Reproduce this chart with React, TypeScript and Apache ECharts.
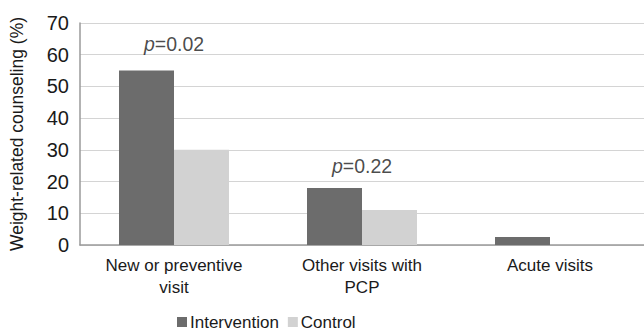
import React, { useEffect, useRef } from "react";
import * as echarts from "echarts";

const categories = ["New or preventive\nvisit", "Other visits with\nPCP", "Acute visits"];
const intervention = [55, 18, 2.5];
const control = [30, 11, 0];
const pLabels = ["0.02", "0.22", ""];
const pLabelY = [63.5, 25, null];
const yTicks = { min: 0, max: 70, interval: 10 };

const FONT = "Liberation Sans, Arial, sans-serif";

export default function App() {
  const ref = useRef<HTMLDivElement>(null);
  useEffect(() => {
    if (!ref.current) return;
    const chart = echarts.init(ref.current, null, { renderer: "svg" });
    chart.setOption({
      animation: false,
      textStyle: { fontFamily: FONT, color: "#1a1a1a" },
      grid: { left: 76, top: 23, bottom: 88, right: -5, containLabel: false },
      legend: {
        data: ["Intervention", "Control"],
        left: 177,
        top: 312,
        padding: 0,
        icon: "rect",
        itemWidth: 10,
        itemHeight: 10,
        itemGap: 9,
        textStyle: { fontFamily: FONT, fontSize: 17, lineHeight: 20, color: "#1a1a1a", padding: [0, 0, 0, -2] },
      },
      xAxis: {
        type: "category",
        data: categories,
        axisLine: { lineStyle: { color: "#9a9a9a", width: 1.5 } },
        axisTick: { show: false },
        axisLabel: { fontSize: 17, lineHeight: 22, margin: 9, color: "#1a1a1a", fontFamily: FONT, interval: 0 },
      },
      yAxis: {
        type: "value",
        min: yTicks.min,
        max: yTicks.max,
        interval: yTicks.interval,
        name: "Weight-related counseling (%)",
        nameLocation: "middle",
        nameGap: 54,
        nameTextStyle: { fontSize: 17.5, color: "#1a1a1a", fontFamily: FONT },
        axisLine: { show: true, lineStyle: { color: "#9a9a9a", width: 1.5 } },
        axisTick: { show: false },
        axisLabel: { fontSize: 20, color: "#1a1a1a", margin: 11, fontFamily: FONT },
        splitLine: { lineStyle: { color: "#d4d4d4", width: 1.2 } },
      },
      series: [
        {
          name: "Intervention",
          type: "bar",
          data: intervention,
          barWidth: 55,
          barGap: "0%",
          itemStyle: { color: "#6c6c6c" },
        },
        {
          name: "Control",
          type: "bar",
          data: control,
          barWidth: 55,
          itemStyle: { color: "#d2d2d2" },
        },
        {
          name: "p",
          type: "scatter",
          symbolSize: 0,
          silent: true,
          data: pLabelY.map((v, i) => (v == null ? null : [i, v])).filter((d) => d !== null),
          label: {
            show: true,
            position: "inside",
            formatter: (p: any) => `{i|p}{n|=${pLabels[p.data[0]]}}`,
            rich: {
              i: { fontStyle: "italic", fontSize: 19.5, color: "#1a1a1a", fontFamily: FONT },
              n: { fontSize: 19.5, color: "#1a1a1a", fontFamily: FONT },
            },
          },
        },
      ],
    });
    return () => chart.dispose();
  }, []);
  return <div ref={ref} style={{ width: 644, height: 333, position: "absolute", left: 0, top: 0 }} />;
}
